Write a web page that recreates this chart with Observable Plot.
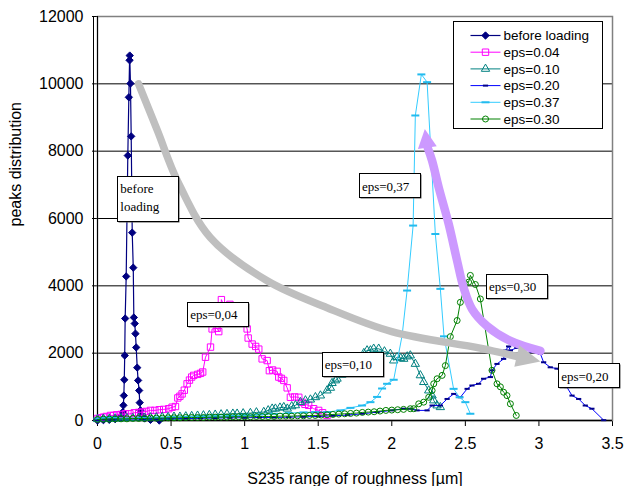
<!DOCTYPE html>
<html>
<head>
<meta charset="utf-8">
<script src="https://cdn.jsdelivr.net/npm/d3@7"></script>
<script src="https://cdn.jsdelivr.net/npm/@observablehq/plot@0.6"></script>
<style>
  body { margin: 0; background: #fff; }
  #wrap { position: relative; width: 625px; height: 486px; overflow: hidden; background: #fff; }
</style>
</head>
<body>
<div id="wrap"></div>
<script>
// ---------------- data ----------------
const xTicks = [0, 0.5, 1, 1.5, 2, 2.5, 3, 3.5];
const yTicks = [0, 2000, 4000, 6000, 8000, 10000, 12000];
const xTitle = "S235 range of roughness [µm]";
const yTitle = "peaks distribution";
const seriesNames = ["before loading", "eps=0.04", "eps=0.10", "eps=0.20", "eps=0.37", "eps=0.30"];

const beforeLoading = [[0.00,0],[0.04,10],[0.08,20],[0.12,40],[0.15,80],[0.165,150],[0.172,250],[0.176,450],[0.179,740],[0.182,1210],[0.185,1930],[0.188,3030],[0.195,4280],[0.206,7870],[0.213,9600],[0.218,10700],[0.219,10840],[0.224,10010],[0.229,8440],[0.236,5580],[0.243,4540],[0.247,3060],[0.253,2880],[0.258,2580],[0.263,2170],[0.270,1570],[0.276,1190],[0.283,890],[0.287,530],[0.292,300],[0.30,150],[0.32,60],[0.36,20],[0.42,0]];

const eps004 = [[0.0,60],[0.02,80],[0.041,100],[0.06,120],[0.088,150],[0.11,150],[0.13,170],[0.16,180],[0.19,200],[0.22,200],[0.25,230],[0.28,240],[0.304,250],[0.33,270],[0.36,300],[0.39,300],[0.42,320],[0.45,330],[0.484,350],[0.507,395],[0.53,415],[0.546,670],[0.56,720],[0.575,790],[0.59,900],[0.609,1090],[0.625,1200],[0.64,1290],[0.654,1340],[0.681,1370],[0.70,1400],[0.715,1440],[0.734,1880],[0.768,2180],[0.779,2720],[0.813,2740],[0.824,2640],[0.842,3590],[0.87,3300],[0.9,3450],[0.93,3200],[0.96,3350],[0.99,3000],[1.017,2720],[1.024,2450],[1.051,2270],[1.075,2200],[1.096,2120],[1.119,1830],[1.153,1780],[1.168,1480],[1.19,1500],[1.221,1460],[1.232,1290],[1.25,1250],[1.266,1190],[1.289,970],[1.311,690],[1.34,700],[1.368,690],[1.391,540],[1.41,480],[1.435,450],[1.469,350],[1.503,300],[1.53,230],[1.56,150]];

const eps010 = [[0,40],[0.04,50],[0.08,50],[0.12,60],[0.16,60],[0.2,70],[0.24,70],[0.28,80],[0.32,80],[0.36,90],[0.40,90],[0.44,100],[0.48,100],[0.52,110],[0.56,110],[0.60,120],[0.64,130],[0.68,140],[0.72,150],[0.76,160],[0.80,170],[0.84,180],[0.88,190],[0.92,200],[0.949,200],[0.99,210],[1.039,220],[1.08,240],[1.13,250],[1.16,300],[1.187,350],[1.209,350],[1.24,380],[1.266,395],[1.29,350],[1.32,420],[1.345,450],[1.379,545],[1.413,595],[1.447,620],[1.481,690],[1.515,740],[1.56,890],[1.583,970],[1.594,1110],[1.617,1190],[1.628,1240],[1.66,1350],[1.70,1500],[1.74,1700],[1.78,1850],[1.81,2000],[1.832,2080],[1.855,2080],[1.877,2130],[1.911,2130],[1.95,2050],[1.99,1980],[2.013,1780],[2.036,1880],[2.06,1850],[2.081,1830],[2.105,1900],[2.126,1930],[2.16,1680],[2.194,1340],[2.217,1140],[2.251,890],[2.274,740],[2.285,595],[2.308,445],[2.33,395]];

const eps020 = [[0,20],[0.05,30],[0.1,30],[0.15,40],[0.2,40],[0.3,50],[0.4,50],[0.5,60],[0.6,60],[0.7,70],[0.8,70],[0.9,80],[1.0,80],[1.1,90],[1.2,90],[1.3,100],[1.4,110],[1.5,120],[1.6,140],[1.7,160],[1.8,200],[1.9,250],[2.0,300],[2.08,350],[2.126,350],[2.172,300],[2.24,300],[2.274,445],[2.33,445],[2.376,640],[2.421,790],[2.466,690],[2.512,940],[2.545,1040],[2.59,1090],[2.624,1240],[2.67,1290],[2.681,1490],[2.715,1680],[2.76,1830],[2.772,2080],[2.794,2200],[2.806,2080],[2.85,2160],[2.874,2230],[2.919,2160],[2.953,2030],[2.987,2100],[3.01,1980],[3.032,1730],[3.077,1580],[3.123,1540],[3.16,1400],[3.19,990],[3.225,740],[3.27,640],[3.315,445],[3.36,350],[3.44,10]];

const eps037 = [[0,60],[0.04,80],[0.08,100],[0.12,80],[0.16,60],[0.2,60],[0.3,80],[0.4,90],[0.5,100],[0.6,110],[0.7,120],[0.8,130],[0.9,140],[1.0,160],[1.1,180],[1.2,200],[1.3,220],[1.4,240],[1.48,250],[1.56,250],[1.651,300],[1.719,375],[1.798,445],[1.855,545],[1.90,700],[1.934,950],[1.968,1090],[2.013,1210],[2.07,2520],[2.104,3860],[2.145,5790],[2.16,9060],[2.201,10280],[2.24,10050],[2.296,5540],[2.33,3910],[2.355,2500],[2.42,940],[2.461,690],[2.5,545],[2.534,200]];

const eps030 = [[0,30],[0.04,40],[0.08,40],[0.12,50],[0.16,50],[0.2,50],[0.24,60],[0.28,60],[0.32,60],[0.36,70],[0.4,70],[0.44,70],[0.48,80],[0.52,80],[0.56,80],[0.6,90],[0.64,90],[0.68,90],[0.72,90],[0.76,100],[0.8,100],[0.84,100],[0.88,100],[0.92,110],[0.96,110],[1.0,110],[1.04,110],[1.08,120],[1.12,120],[1.16,120],[1.2,120],[1.24,130],[1.28,130],[1.32,130],[1.36,140],[1.4,140],[1.44,150],[1.48,150],[1.52,160],[1.56,170],[1.6,180],[1.64,190],[1.68,200],[1.72,210],[1.76,220],[1.8,240],[1.84,250],[1.88,260],[1.92,280],[1.96,300],[2.0,310],[2.04,320],[2.08,330],[2.126,350],[2.149,350],[2.183,495],[2.217,545],[2.251,690],[2.274,890],[2.285,1090],[2.308,1240],[2.342,1340],[2.364,1630],[2.398,2490],[2.444,2970],[2.466,3510],[2.5,4060],[2.522,4110],[2.534,4310],[2.568,4040],[2.602,3610],[2.681,1490],[2.715,1090],[2.738,1000],[2.76,840],[2.783,740],[2.806,495],[2.846,150]];

// annotation callouts (text + top-left corner of the box, in data units)
const labelTexts = ["before\nloading", "eps=0,04", "eps=0,10", "eps=0,37", "eps=0,30", "eps=0,20"];
const labelX = [0.138, 0.613, 1.527, 1.78, 2.643, 3.134];
const labelY = [7247, 3513, 2028, 7327, 4336, 1684];

// arrows (shaft points and tip, data units)
const grayArrow = [[0.279,10000],[0.408,8600],[0.543,7120],[0.768,5430],[1.153,4150],[1.56,3350],[2.0,2640],[2.6,2150],[2.853,1900]];
const grayArrowTip = [3.014,1738];
const purpleArrow = [[3.01,2066],[2.806,2363],[2.647,2809],[2.546,3306],[2.488,3948],[2.444,4742],[2.387,5833],[2.319,6920],[2.274,7714],[2.245,8090]];
const purpleArrowTip = [2.228,8640];

// ---------------- styles ----------------
const dash = {draw(ctx, size) { const r = Math.sqrt(size / Math.PI); ctx.moveTo(-r, 0); ctx.lineTo(r, 0); }};
const seriesData = [beforeLoading, eps004, eps010, eps020, eps037, eps030];
const seriesStyle = [
  {color: "#000080", symbol: "diamond2", fill: "#000080", mark: "#000080", r: 3.3, sw: 1, lw: 1.2},
  {color: "#FF00FF", symbol: "square", fill: "none", mark: "#FF00FF", r: 3.6, sw: 1, lw: 1},
  {color: "#008080", symbol: "triangle", fill: "none", mark: "#008080", r: 3.1, sw: 1, lw: 1},
  {color: "#0000FF", symbol: dash, fill: "none", mark: "#00008B", r: 2.6, sw: 2, lw: 1},
  {color: "#33CCFF", symbol: dash, fill: "none", mark: "#22BBEE", r: 4, sw: 2, lw: 1},
  {color: "#008000", symbol: "circle", fill: "none", mark: "#008000", r: 3, sw: 1, lw: 1}
];

const labels = labelTexts.map((t, i) => ({text: t, x: labelX[i], y: labelY[i]}));
const serif = "'Liberation Serif', 'Times New Roman', serif";
const sans = "'Liberation Sans', Arial, sans-serif";

const seriesMarks = seriesData.flatMap((data, i) => {
  const s = seriesStyle[i];
  return [
    Plot.line(data, {x: d => d[0], y: d => d[1], stroke: s.color, strokeWidth: s.lw}),
    Plot.dot(data, {x: d => d[0], y: d => d[1], symbol: s.symbol, r: s.r, stroke: s.mark, fill: s.fill, strokeWidth: s.sw})
  ];
});

const chart = Plot.plot({
  width: 625,
  height: 486,
  marginLeft: 97,
  marginRight: 13,
  marginTop: 16,
  marginBottom: 66,
  style: {fontFamily: sans, fontSize: "16px", color: "#000", background: "#fff", overflow: "visible"},
  x: {domain: [0, 3.5], ticks: xTicks, tickFormat: d => String(d), tickSize: 6, tickPadding: 11, label: null},
  y: {domain: [0, 12000], ticks: yTicks, tickFormat: d => String(d), tickSize: 5, tickPadding: 9, label: null},
  marks: [
    Plot.ruleY(yTicks.filter(t => t > 0 && t < 12000), {stroke: "#000", strokeWidth: 1}),
    Plot.frame({stroke: "#808080", strokeWidth: 1.5}),
    Plot.ruleX([0], {stroke: "#000", strokeWidth: 1, dx: -4}),
    Plot.ruleX([0], {stroke: "#000", strokeWidth: 1}),
    Plot.ruleY([0], {stroke: "#000", strokeWidth: 1.5}),
    ...seriesMarks,
    Plot.line(grayArrow, {x: d => d[0], y: d => d[1], stroke: "#BFBFBF", strokeWidth: 7.5, curve: "catmull-rom"}),
    Plot.line(purpleArrow, {x: d => d[0], y: d => d[1], stroke: "#CC99FF", strokeWidth: 8.5, curve: "catmull-rom"}),
    Plot.text(labels, {x: "x", y: "y", text: "text", textAnchor: "start", lineAnchor: "top", dx: 2.5, dy: 4.5, lineHeight: 1.35, fontFamily: serif, fontSize: 13, fill: "#000"}),
    Plot.text([yTitle], {text: d => d, frameAnchor: "left", dx: -82, dy: 8, rotate: -90, fontSize: 16, fill: "#000"}),
    Plot.text([xTitle], {text: d => d, frameAnchor: "bottom", dy: 58, lineAnchor: "middle", fontSize: 16, fill: "#000"})
  ]
});
document.getElementById("wrap").appendChild(chart);

// ------------- derived decorations (through the chart's scales) -------------
const sx = chart.scale("x"), sy = chart.scale("y");
const svg = d3.select(chart);

// find the group holding the callout texts
let annNode = null;
chart.querySelectorAll("g").forEach(g => {
  if (!annNode && g.querySelector("text") && g.textContent.includes("eps=0,10") && g !== chart) annNode = g;
});

// arrow heads
const headG = svg.append("g");
function arrowHead(base, tip, width, color) {
  const bx = sx.apply(base[0]), by = sy.apply(base[1]);
  const tx = sx.apply(tip[0]), ty = sy.apply(tip[1]);
  const L = Math.hypot(tx - bx, ty - by), nx = -(ty - by) / L, ny = (tx - bx) / L, h = width / 2;
  headG.append("polygon")
    .attr("points", [[bx + nx * h, by + ny * h], [tx, ty], [bx - nx * h, by - ny * h]].map(p => p.join(",")).join(" "))
    .attr("fill", color);
}
arrowHead(grayArrow[grayArrow.length - 1], grayArrowTip, 22, "#BFBFBF");
arrowHead(purpleArrow[purpleArrow.length - 1], purpleArrowTip, 19, "#CC99FF");

// label boxes
const boxG = svg.append("g");
labels.forEach(d => {
  const x = Math.round(sx.apply(d.x)) + 0.5, y = Math.round(sy.apply(d.y)) + 0.5;
  const n = d.text.split("\n").length;
  const h = n > 1 ? 45 : 24;
  boxG.append("rect").attr("x", x + 1).attr("y", y + 1).attr("width", 61).attr("height", h).attr("fill", "#555");
  boxG.append("rect").attr("x", x).attr("y", y).attr("width", 61).attr("height", h).attr("fill", "#fff").attr("stroke", "#000").attr("stroke-width", 1);
});
// put the callout texts above their boxes
if (annNode) chart.appendChild(annNode);

// legend
const lg = svg.append("g").attr("transform", "translate(453.5,21.5)");
lg.append("rect").attr("width", 149).attr("height", 107).attr("fill", "#fff").attr("stroke", "#000");
seriesNames.forEach((name, i) => {
  const s = seriesStyle[i];
  const cy = 14 + i * 16.7;
  lg.append("line").attr("x1", 17).attr("x2", 47).attr("y1", cy).attr("y2", cy).attr("stroke", s.color).attr("stroke-width", s.lw);
  const sym = typeof s.symbol === "string"
    ? {circle: d3.symbolCircle, square: d3.symbolSquare, triangle: d3.symbolTriangle, diamond2: d3.symbolDiamond2}[s.symbol]
    : s.symbol;
  lg.append("path").attr("d", d3.symbol(sym, s.r * s.r * Math.PI)()).attr("transform", `translate(32,${cy})`)
    .attr("fill", s.fill).attr("stroke", s.mark).attr("stroke-width", s.sw);
  lg.append("text").attr("x", 50).attr("y", cy).attr("dy", "0.35em").attr("text-anchor", "start")
    .attr("font-family", sans).attr("font-size", 13.5).attr("fill", "#000").text(name);
});
</script>
</body>
</html>
